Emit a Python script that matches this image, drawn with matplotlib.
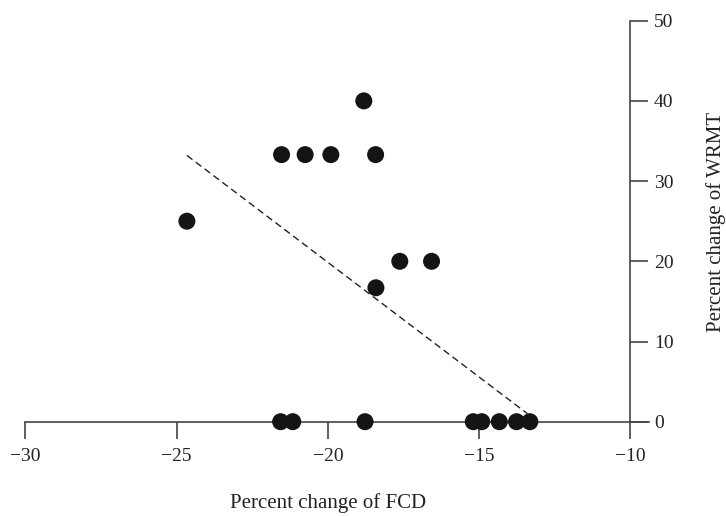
import matplotlib.pyplot as plt

# Percent change of FCD (x) and WRMT (y) per subject.
fcd_change = [-24.66, -21.53, -20.75, -19.9, -18.81, -18.42, -17.62, -16.57, -18.41,
              -21.56, -21.16, -18.77, -15.19, -14.91, -14.33, -13.76, -13.32]
wrmt_change = [25.0, 33.3, 33.3, 33.3, 40.0, 33.3, 20.0, 20.0, 16.7,
               0, 0, 0, 0, 0, 0, 0, 0]
# Fitted line ends.
fit_x = [-24.66, -13.4]
fit_y = [33.2, 1.0]
x_ticks = [-30, -25, -20, -15, -10]
y_ticks = [0, 10, 20, 30, 40, 50]

plt.rcParams['font.family'] = ['Liberation Serif', 'DejaVu Serif']
axis_col = '#444444'
text_col = '#222222'

fig = plt.figure(figsize=(7.26, 5.16), dpi=100)
ax = fig.add_axes([25.4 / 726, 94.3 / 516, 623.6 / 726, 401 / 516])

ax.plot(fit_x, fit_y, linestyle=(0, (5, 3)), color='#222222', linewidth=1)
ax.scatter(fcd_change, wrmt_change, s=150, c='#141414', edgecolors='none',
           zorder=5, clip_on=False)

ax.set_xlim(-30, -9.38)
ax.set_ylim(0, 50)

# Axes: bottom line at y=0 and a right-hand axis at x=-10.
ax.spines['left'].set_visible(False)
ax.spines['top'].set_visible(False)
ax.spines['right'].set_position(('data', -10))
for side in ['bottom', 'right']:
    ax.spines[side].set_color(axis_col)
    ax.spines[side].set_linewidth(1.2)

ax.set_xticks(x_ticks)
ax.set_yticks(y_ticks)
ax.yaxis.tick_right()
ax.tick_params(axis='x', direction='out', length=12.5, width=1.2, color=axis_col,
               labelsize=14, labelcolor=text_col, pad=6.5)
ax.tick_params(axis='y', direction='out', length=13, width=1.2, color=axis_col,
               labelsize=14, labelcolor=text_col, pad=4)

fig.text(328 / 726, 1 - 503 / 516, 'Percent change of FCD', ha='center', va='center',
         fontsize=15, color=text_col)
fig.text(716 / 726, 1 - 222 / 516, 'Percent change of WRMT', ha='center', va='center',
         rotation=90, fontsize=15, color=text_col)

plt.savefig('out.png', dpi=100)
